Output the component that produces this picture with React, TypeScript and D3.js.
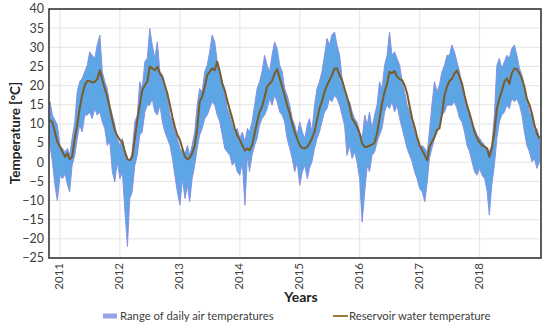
import { useEffect } from 'react';
import * as d3 from 'd3';

const yearLabels = ['2011', '2012', '2013', '2014', '2015', '2016', '2017', '2018'];
const tempTicks = [-25, -20, -15, -10, -5, 0, 5, 10, 15, 20, 25, 30, 35, 40];

// half-monthly samples (1st and 16th), Nov 2010 .. Jan 2019
const airMax = [
  15.8, 12.3, 11.0, 9.7,
  4.4, 3.6, 2.7, 3.6, 1.8, 6.2, 10.5, 18.4, 21.0, 21.9, 23.6, 25.3, 28.8, 27.9, 27.1, 30.6, 33.2, 23.6, 21.0, 19.2, 14.9, 12.3, 9.7, 6.2,
  4.4, 6.2, 2.7, 1.0, 0.1, 2.7, 10.5, 12.3, 21.0, 19.2, 26.2, 27.1, 34.9, 30.6, 27.1, 31.4, 23.6, 22.7, 19.2, 17.5, 12.3, 10.5, 7.9, 6.2,
  3.6, 2.7, 2.3, 4.4, 1.8, 4.4, 7.9, 14.9, 19.2, 18.4, 23.6, 25.3, 28.8, 33.2, 31.4, 26.2, 23.6, 21.0, 18.4, 14.0, 12.3, 9.7, 7.9, 8.8,
  6.2, 7.9, 5.3, 8.8, 7.9, 10.5, 14.9, 19.2, 21.0, 23.6, 27.9, 25.3, 23.6, 27.9, 31.4, 29.7, 25.3, 23.6, 19.2, 17.5, 14.9, 11.4, 9.7, 7.1,
  10.5, 7.9, 6.2, 9.7, 11.4, 7.9, 14.9, 19.2, 21.0, 23.6, 27.9, 32.3, 30.6, 33.2, 34.0, 30.6, 27.9, 21.9, 19.2, 16.6, 15.8, 13.1, 11.4, 10.5,
  7.9, 6.2, 12.3, 9.7, 13.1, 8.8, 12.3, 14.9, 21.0, 19.2, 25.3, 27.9, 34.0, 27.9, 28.8, 27.1, 25.3, 21.0, 18.4, 14.9, 13.1, 10.5, 7.9, 6.2,
  3.6, 4.4, 3.6, 2.7, 7.9, 14.9, 21.0, 18.4, 20.1, 23.6, 25.3, 27.9, 27.9, 30.6, 28.8, 26.2, 23.6, 19.2, 16.6, 14.0, 12.3, 9.7, 8.8, 7.1,
  6.2, 5.3, 4.4, 3.6, 2.7, 4.4, 12.3, 25.3, 27.1, 24.5, 26.2, 27.9, 27.1, 29.7, 30.6, 27.9, 24.5, 22.7, 19.2, 16.6, 13.1, 12.3, 7.9, 8.8,
  6.2,
];

const airMin = [
  4.4, 0.1, -6.0, -10.0,
  -3.4, -4.3, -3.0, -6.0, -7.7, -0.8, 1.8, 6.2, 9.7, 7.9, 12.3, 12.3, 13.1, 11.4, 14.0, 12.3, 13.1, 10.5, 8.8, 4.4, 5.3, -2.5, -5.1, 0.1,
  -4.3, -2.5, -13.0, -22.0, -9.5, -7.7, -0.8, 1.8, 7.1, 7.9, 13.1, 14.9, 14.9, 16.6, 13.1, 12.3, 14.9, 10.5, 7.9, 6.2, 4.4, 1.0, -3.4, -7.7,
  -11.2, -4.3, -9.5, -6.0, -10.3, -4.3, -0.8, 3.6, 7.1, 8.8, 11.4, 12.3, 14.0, 15.8, 14.9, 12.3, 10.5, 7.1, 3.6, 2.7, 1.8, -0.8, 0.1, -2.5,
  -3.4, 0.1, -11.2, 1.8, -2.5, 1.8, 4.4, 6.2, 9.7, 11.4, 12.3, 14.0, 16.6, 14.9, 17.5, 15.8, 13.1, 12.3, 10.5, 6.2, 3.6, 1.0, -2.5, 0.1,
  -6.0, -2.5, -0.8, -4.3, -1.6, 0.1, 3.6, 6.2, 7.9, 10.5, 13.1, 14.0, 16.6, 15.8, 17.5, 16.6, 14.9, 12.3, 9.7, 1.8, 4.4, 1.0, 2.7, 0.1,
  -4.3, -15.6, -7.7, -0.8, -2.5, 1.8, 2.7, 5.3, 7.1, 8.8, 13.1, 14.9, 14.0, 15.8, 13.1, 14.9, 11.4, 8.8, 6.2, 3.6, 1.8, 0.1, -2.5, -4.3,
  -6.9, -7.7, -10.3, -5.1, 1.0, 3.6, 6.2, 7.9, 9.7, 12.3, 13.1, 14.9, 14.9, 14.9, 15.8, 14.0, 11.4, 10.5, 7.9, 4.4, 2.7, 0.1, -2.5, -3.4,
  -1.6, -3.4, -4.3, -7.7, -13.8, -6.0, -0.8, 6.2, 10.5, 12.3, 13.1, 14.9, 14.0, 16.6, 15.8, 16.6, 14.9, 12.3, 7.9, 4.4, 2.7, 0.1, 1.0, -1.6,
  0.1,
];

const waterTemp = [
  11.0, 10.4, 7.9, 5.3,
  4.0, 2.7, 1.4, 2.3, 0.8, 1.4, 6.2, 9.7, 14.0, 17.5, 20.1, 21.2, 21.2, 20.8, 21.0, 21.7, 24.0, 21.4, 19.2, 17.1, 14.0, 11.0, 8.4, 6.9,
  5.8, 5.3, 2.7, 0.8, 0.5, 1.4, 6.2, 11.0, 14.9, 18.8, 20.1, 21.0, 25.0, 24.5, 24.0, 24.9, 23.2, 22.3, 20.1, 18.0, 14.9, 11.8, 9.2, 7.1,
  5.8, 3.6, 1.4, 0.8, 1.1, 2.3, 4.4, 8.8, 15.8, 17.1, 19.7, 22.7, 23.6, 24.5, 24.0, 26.2, 23.6, 20.5, 18.8, 16.2, 13.6, 11.4, 8.8, 7.1,
  5.8, 4.4, 3.1, 3.6, 3.1, 4.4, 7.5, 10.5, 13.1, 14.5, 17.1, 19.7, 20.5, 21.2, 23.2, 24.3, 21.9, 19.7, 17.5, 14.9, 12.7, 10.1, 7.9, 6.2,
  4.4, 3.7, 3.6, 4.0, 4.9, 6.2, 7.9, 11.0, 14.0, 15.8, 18.4, 20.1, 21.4, 22.7, 24.5, 24.5, 22.7, 21.4, 19.2, 17.1, 14.5, 11.4, 10.4, 9.2,
  7.5, 4.9, 4.0, 4.0, 4.3, 4.6, 5.1, 7.5, 11.4, 15.3, 18.4, 20.5, 23.6, 23.2, 23.8, 22.3, 21.7, 21.4, 20.1, 18.0, 14.5, 11.4, 9.2, 6.6,
  4.4, 3.1, 1.8, 0.5, 4.0, 5.3, 6.6, 8.4, 8.8, 12.3, 17.5, 19.7, 21.2, 21.7, 23.2, 24.0, 22.3, 20.5, 17.5, 14.9, 12.7, 10.4, 7.9, 6.4,
  5.1, 4.4, 4.0, 3.6, 1.4, 3.6, 7.9, 14.0, 16.6, 18.5, 21.0, 21.9, 20.5, 23.2, 24.5, 24.3, 23.2, 21.9, 19.7, 16.6, 14.9, 12.7, 9.7, 7.5,
  6.2,
];

const sampleDates: Date[] = [];
d3.timeMonth.range(new Date(2010, 10, 1), new Date(2019, 0, 1)).forEach((m) => {
  sampleDates.push(m, new Date(m.getFullYear(), m.getMonth(), 16));
});
sampleDates.push(new Date(2019, 0, 1));

const W = 550;
const H = 328;
const margin = { top: 9, right: 9, bottom: 70, left: 49 };
const FONT = 'Lato, "Open Sans", sans-serif';

export default function App() {
  useEffect(() => {
    document.body.style.margin = '0';
  }, []);

  const x = d3.scaleTime()
    .domain([new Date(2010, 9, 26), new Date(2019, 0, 10)])
    .range([margin.left, W - margin.right]);
  const y = d3.scaleLinear()
    .domain([-25, 40])
    .range([H - margin.bottom, margin.top]);

  const rows = sampleDates.map((d, i) => ({ d, hi: airMax[i], lo: airMin[i], w: waterTemp[i] }));

  const area = d3.area<typeof rows[number]>()
    .x((r) => x(r.d))
    .y0((r) => y(r.lo))
    .y1((r) => y(r.hi));
  const line = d3.line<typeof rows[number]>()
    .x((r) => x(r.d))
    .y((r) => y(r.w));

  const x0 = margin.left;
  const x1 = W - margin.right;
  const y0 = H - margin.bottom;
  const y1 = margin.top;

  return (
    <svg width={W} height={H} style={{ display: 'block', background: '#fff' }} fontFamily={FONT}>
      <defs>
        <clipPath id="plot">
          <rect x={x0} y={y1} width={x1 - x0} height={y0 - y1} />
        </clipPath>
      </defs>
      {tempTicks.map((t) => (
        <line key={t} x1={x0} x2={x1} y1={y(t)} y2={y(t)} stroke="#e4e4e4" strokeWidth={1} />
      ))}
      {yearLabels.map((yr) => {
        const gx = x(new Date(+yr, 0, 1));
        return <line key={yr} x1={gx} x2={gx} y1={y1} y2={y0} stroke="#e4e4e4" strokeWidth={1} />;
      })}
      <g clipPath="url(#plot)">
        <path d={area(rows) ?? ''} fill="#5ca6e6" stroke="#8890e2" strokeWidth={1} strokeLinejoin="round" />
        <path d={line(rows) ?? ''} fill="none" stroke="#7a5c2c" strokeWidth={2} strokeLinejoin="round" />
      </g>
      <rect x={x0} y={y1} width={x1 - x0} height={y0 - y1} fill="none" stroke="#2a2a2a" strokeWidth={1.5} />
      {tempTicks.map((t) => (
        <text key={t} x={44} y={y(t)} dy="0.35em" textAnchor="end" fontSize={12.5} fill="#404040">
          {t < 0 ? `\u2212${Math.abs(t)}` : t}
        </text>
      ))}
      {yearLabels.map((yr) => {
        const gx = x(new Date(+yr, 0, 1)) - 1;
        return (
          <text key={yr} transform={`translate(${gx},${y0 + 5}) rotate(-90)`} textAnchor="end" dy="0.35em" fontSize={11.5} fill="#404040">
            {yr}
          </text>
        );
      })}
      <text x={301} y={297} dy="0.35em" textAnchor="middle" fontSize={14} fontWeight="bold" fill="#222">Years</text>
      <text transform={`translate(15,133) rotate(-90)`} textAnchor="middle" dy="0.35em" fontSize={13.5} fontWeight="bold" fill="#222">
        Temperature [°C]
      </text>
      <rect x={103} y={313.5} width={14} height={5} fill="#98a4e8" />
      <text x={120} y={316} dy="0.35em" fontSize={11.3} fill="#404040">Range of daily air temperatures</text>
      <line x1={333} x2={348} y1={316} y2={316} stroke="#9a7a3c" strokeWidth={2} />
      <text x={349} y={316} dy="0.35em" fontSize={11.3} fill="#404040">Reservoir water temperature</text>
    </svg>
  );
}
